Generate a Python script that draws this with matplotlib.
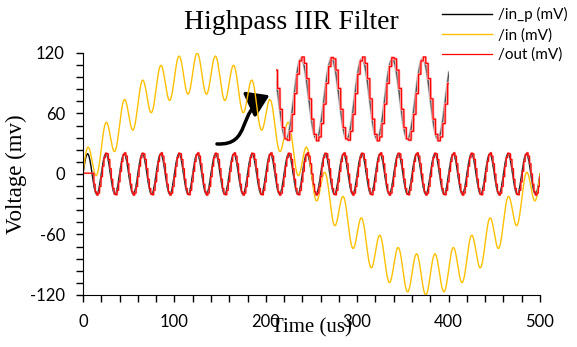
import matplotlib
matplotlib.use("Agg")
import matplotlib.pyplot as plt
import numpy as np
from matplotlib.path import Path
from matplotlib.patches import FancyArrowPatch

plt.rcParams["axes.unicode_minus"] = False

# values
t_end = 500.0          # us
lf_amp = 100.0         # mV, slow component of /in
lf_period = 500.0      # us
hf_amp = 20.0          # mV, /in_p
hf_period = 20.0       # us
out_step = 1.6         # us, hold time of the /out staircase
out_delay = 0.6        # us
out_gain = 1.05
out_start = 12.0       # us, /out sits at 0 before this
inset_window = [148.2, 262.2]

legend_labels = ["/in_p (mV)", "/in (mV)", "/out (mV)"]
colors = ["black", "#FFC000", "#FF0000"]

t = np.arange(0, t_end + 0.05, 0.1)
in_p = hf_amp * np.sin(2 * np.pi * t / hf_period)
in_sig = in_p + lf_amp * np.sin(2 * np.pi * t / lf_period)
t_held = np.floor((t - out_delay) / out_step + 1e-9) * out_step + 0.4
out = hf_amp * out_gain * np.sin(2 * np.pi * t_held / hf_period)
out[t < out_start] = 0.8

fig = plt.figure(figsize=(5.77, 3.47), dpi=100)
ax = fig.add_axes([0.1438, 0.1499, 0.7921, 0.6974])

l1, = ax.plot(t, in_p, color=colors[0], lw=1.0)
l2, = ax.plot(t, in_sig, color=colors[1], lw=1.0)
ax.plot(t, out, color="#ffb8b8", lw=1.8, alpha=0.5)
l3, = ax.plot(t, out, color=colors[2], lw=0.9)

ax.set_xlim(0, 500)
ax.set_ylim(-120, 120)
ax.set_xticks(np.arange(0, 501, 100))
ax.set_xticks(np.arange(0, 501, 20), minor=True)
ax.set_yticks(np.arange(-120, 121, 60))
ax.set_yticks(np.arange(-120, 121, 12), minor=True)
ax.tick_params(which="both", direction="out", length=5, width=1, labelsize=12)
ax.tick_params(axis="x", pad=9)
ax.tick_params(axis="y", pad=8)
for lab in ax.get_xticklabels() + ax.get_yticklabels():
    lab.set_family("Lato")
ax.spines["top"].set_visible(False)
ax.spines["right"].set_visible(False)

ax.set_title("Highpass IIR Filter", family="Liberation Serif", fontsize=20, pad=17, x=0.455)
ax.set_xlabel("Time (us)", family="Liberation Serif", fontsize=15, labelpad=-9)
ax.set_ylabel("Voltage (mv)", family="Liberation Serif", fontsize=16.5, labelpad=2)

# zoomed copy of /in_p and /out
axi = fig.add_axes([0.478, 0.591, 0.300, 0.248])
axi.plot(t, in_p, color="#c0c0c0", lw=2.0)
axi.plot(t, in_p, color="#505050", lw=0.9)
axi.plot(t, out, color="#ffb8b8", lw=2.0)
axi.plot(t, out, color=colors[2], lw=0.9)
axi.set_xlim(inset_window)
axi.set_ylim(-21.5, 21.5)
axi.axis("off")
axi.patch.set_alpha(0)

# curved arrow pointing at the inset
verts = [(146.6, 29.8), (185.0, 28.0), (168.0, 63.0), (204.0, 78.0)]
arrow_path = Path(verts, [Path.MOVETO, Path.CURVE4, Path.CURVE4, Path.CURVE4])
arr = FancyArrowPatch(path=arrow_path, arrowstyle="-|>,head_length=1.0,head_width=0.65",
                      mutation_scale=13, lw=2.5, color="black", transform=ax.transData)
ax.add_patch(arr)

fig.legend([l1, l2, l3], legend_labels, loc="upper right", bbox_to_anchor=(1.0, 1.005),
           frameon=False, prop={"family": "Lato", "size": 11}, handlelength=3.3,
           handletextpad=0.4, labelspacing=0.36, borderaxespad=0.2)

fig.savefig("out.png", dpi=100)
